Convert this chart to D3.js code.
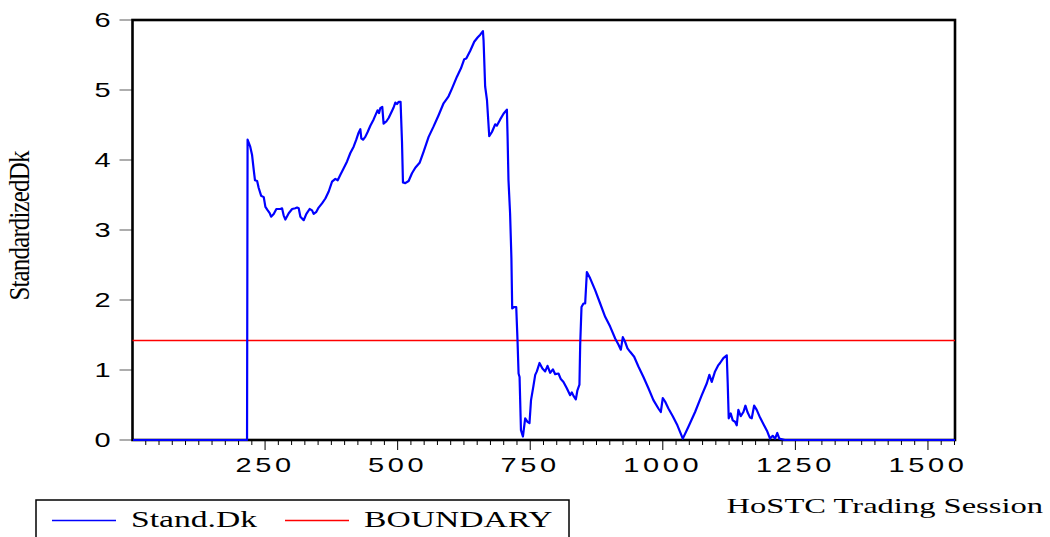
<!DOCTYPE html>
<html>
<head>
<meta charset="utf-8">
<script src="https://cdn.jsdelivr.net/npm/d3@7"></script>
<style>
  html, body { margin: 0; padding: 0; background: #fff; }
  svg { display: block; }
</style>
</head>
<body>
<div id="chart"></div>
<script>
// ----- data -----
// trading session index
const sessions = [
  1, 216, 217, 222, 225.5, 228.6, 231, 235, 238, 242.5, 247.5, 250.6, 255, 258.7, 261.3,
  266.3, 271.3, 278.9, 282, 285, 288.3, 294.6, 301, 307, 310.3, 313.4, 316.6, 322.8,
  327.9, 334, 338.6, 341.6, 346.7, 351, 357.4, 363.7, 370, 376.3, 382.5, 387, 392, 398,
  404.6, 410.8, 417, 422, 426.4, 429.6, 431.5, 434.7, 439, 443.4, 448.5, 454.7, 459.8,
  462.2, 464.8, 467.3, 471, 473.5, 478.6, 483, 487.5, 492.4, 495.6, 498.8, 501.8, 505.5,
  508.2, 510, 514.4, 520.7, 527, 533.3, 541.4, 549, 558.4, 567.8, 577.2, 586.6, 596,
  602.4, 611.8, 619.4, 625.6, 629.4, 636.9, 644.4, 650.7, 655.7, 660.8, 662, 665, 668.4,
  672.7, 677.8, 684, 687, 693.4, 699.6, 706, 707.3, 709, 712, 714.5, 716, 719.8, 723.6, 726,
  728, 729.9, 732.5, 736.2, 740.5, 744.9, 748.6, 751.5, 756, 759.4, 762.5, 767.5, 773,
  778.2, 782.6, 787.6, 792.7, 797, 803.3, 807.7, 812.7, 819, 825.3, 828.5, 831.6, 836,
  839, 842.8, 844.2, 846.7, 850.4, 853.6, 856.8, 863, 872.4, 881.9, 891.3, 900.7, 910.2,
  916.5, 920.9, 924.6, 929, 933.4, 938.4, 946, 954, 963.5, 972.9, 982.3, 991.7, 996.2,
  1000, 1004.3, 1010.6, 1018.8, 1027.5, 1037.7, 1048.3, 1060.9, 1073.5, 1083, 1087.8,
  1092.3, 1098.5, 1104.8, 1108, 1114.2, 1120.6, 1122.4, 1124.3, 1128, 1131.9, 1136.2,
  1139.4, 1142.5, 1147, 1152, 1155.8, 1159.6, 1164.6, 1167.7, 1172.2, 1177.1, 1183.4,
  1190.9, 1197.1, 1202.2, 1207.3, 1211.6, 1215.9, 1219.7, 1230, 1551
];
// standardized Dk statistic
const standDk = [
  0, 0, 4.29, 4.19, 4.07, 3.86, 3.71, 3.70, 3.60, 3.49, 3.47, 3.33, 3.28, 3.24, 3.19,
  3.23, 3.30, 3.30, 3.31, 3.21, 3.15, 3.24, 3.30, 3.31, 3.32, 3.31, 3.19, 3.14,
  3.23, 3.30, 3.28, 3.23, 3.26, 3.32, 3.38, 3.45, 3.55, 3.69, 3.73, 3.71, 3.79, 3.88,
  3.98, 4.10, 4.19, 4.29, 4.39, 4.44, 4.31, 4.29, 4.33, 4.40, 4.49, 4.58, 4.67,
  4.71, 4.67, 4.74, 4.76, 4.52, 4.55, 4.60, 4.67, 4.75, 4.82, 4.80, 4.83, 4.83,
  4.26, 3.68, 3.67, 3.70, 3.81, 3.89, 3.96, 4.12, 4.33, 4.48, 4.64, 4.81, 4.91,
  5.02, 5.19, 5.31, 5.44, 5.45, 5.56, 5.69, 5.75, 5.79, 5.84, 5.71, 5.05, 4.86,
  4.34, 4.40, 4.51, 4.49, 4.58, 4.66, 4.72, 4.33, 3.71, 3.24, 2.60, 1.88, 1.90, 1.90, 1.43,
  0.95, 0.90, 0.14, 0.05, 0.31, 0.26, 0.24, 0.57, 0.77, 0.93, 0.98, 1.10, 1.02,
  0.98, 1.06, 0.96, 1.01, 0.94, 0.95, 0.87, 0.83, 0.74, 0.64, 0.68, 0.63, 0.58,
  0.71, 0.79, 1.36, 1.90, 1.95, 1.95, 2.40, 2.31, 2.14, 1.95, 1.76, 1.62, 1.45,
  1.36, 1.29, 1.47, 1.40, 1.31, 1.26, 1.19, 1.05, 0.90, 0.74, 0.57, 0.45, 0.40,
  0.60, 0.55, 0.45, 0.34, 0.21, 0.02, 0.19, 0.40, 0.64, 0.81, 0.93,
  0.83, 0.98, 1.07, 1.10, 1.17, 1.21, 0.81, 0.31, 0.38, 0.28, 0.26,
  0.21, 0.43, 0.34, 0.40, 0.49, 0.40, 0.32, 0.31, 0.49, 0.43, 0.32,
  0.21, 0.12, 0.02, 0.06, 0.02, 0.10, 0.02, 0, 0
];
const boundary = 1.42;

const yTicks = [0, 1, 2, 3, 4, 5, 6];
const xMajorTicks = [250, 500, 750, 1000, 1250, 1500];
const xMinorTicks = d3.range(25, 1551, 25);

const seriesNames = ['Stand.Dk', 'BOUNDARY'];
const seriesColors = ['#0000ff', '#ff0000'];

// ----- layout -----
const W = 1050, H = 537;
const mLeft = 132.5, mRight = 955, mTop = 20, mBottom = 440;
const sansFont = '"Liberation Sans", Arial, sans-serif';
const serifFont = '"Liberation Serif", "Times New Roman", serif';

const x = d3.scaleLinear().domain([0, 1551]).range([mLeft, mRight]);
const y = d3.scaleLinear().domain([0, 6]).range([mBottom, mTop]);

const svg = d3.select('#chart').append('svg')
  .attr('width', W).attr('height', H);

// y ticks + labels
svg.append('g').selectAll('line').data(yTicks).join('line')
  .attr('x1', mLeft - 13).attr('x2', mLeft)
  .attr('y1', d => y(d)).attr('y2', d => y(d))
  .attr('stroke', '#777').attr('stroke-width', 1.2);

svg.append('g').selectAll('text').data(yTicks).join('text')
  .attr('transform', d => `translate(${mLeft - 22},${y(d) + 7}) scale(1.45,1)`)
  .attr('text-anchor', 'end')
  .attr('font-family', sansFont).attr('font-size', 20)
  .text(d => d);

// x ticks (minor every 25, major every 250)
svg.append('g').selectAll('line').data(xMinorTicks).join('line')
  .attr('x1', d => x(d)).attr('x2', d => x(d))
  .attr('y1', mBottom).attr('y2', d => mBottom + (d % 250 === 0 ? 10 : 5))
  .attr('stroke', '#000').attr('stroke-width', 1);

svg.append('g').selectAll('text').data(xMajorTicks).join('text')
  .attr('transform', d => `translate(${x(d)},${mBottom + 32}) scale(1.45,1)`)
  .attr('text-anchor', 'middle')
  .attr('font-family', sansFont).attr('font-size', 20)
  .attr('letter-spacing', 2.5)
  .text(d => d);

// frame
svg.append('rect')
  .attr('x', mLeft).attr('y', mTop)
  .attr('width', mRight - mLeft).attr('height', mBottom - mTop)
  .attr('fill', 'none').attr('stroke', '#000').attr('stroke-width', 2.6);

// boundary line
svg.append('line')
  .attr('x1', x(0)).attr('x2', x(1551))
  .attr('y1', y(boundary)).attr('y2', y(boundary))
  .attr('stroke', seriesColors[1]).attr('stroke-width', 1.5);

// Stand.Dk series
const line = d3.line()
  .x((d, i) => x(sessions[i]))
  .y(d => y(d));

svg.append('path')
  .datum(standDk)
  .attr('d', line)
  .attr('fill', 'none')
  .attr('stroke', seriesColors[0])
  .attr('stroke-width', 2.2)
  .attr('stroke-linejoin', 'round');

// axis titles
svg.append('text')
  .attr('transform', 'translate(29,226) rotate(-90) scale(1.04,1.25)')
  .attr('text-anchor', 'middle')
  .attr('font-family', serifFont).attr('font-size', 24)
  .attr('letter-spacing', -0.8)
  .text('StandardizedDk');

svg.append('text')
  .attr('transform', 'translate(1043,513) scale(1.48,1)')
  .attr('text-anchor', 'end')
  .attr('font-family', serifFont).attr('font-size', 22)
  .text('HoSTC Trading Session');

// legend
svg.append('rect')
  .attr('x', 36).attr('y', 500).attr('width', 533).attr('height', 60)
  .attr('fill', 'none').attr('stroke', '#000').attr('stroke-width', 1.5);

const legendX = [52, 285];
const legendItems = svg.append('g').selectAll('g').data(seriesNames).join('g');
legendItems.append('line')
  .attr('x1', (d, i) => legendX[i]).attr('x2', (d, i) => legendX[i] + 64)
  .attr('y1', 520.5).attr('y2', 520.5)
  .attr('stroke', (d, i) => seriesColors[i]).attr('stroke-width', 1.5);
legendItems.append('text')
  .attr('transform', (d, i) => `translate(${legendX[i] + 79},527) scale(1.4,1)`)
  .attr('font-family', serifFont).attr('font-size', 24)
  .text(d => d);
</script>
</body>
</html>
